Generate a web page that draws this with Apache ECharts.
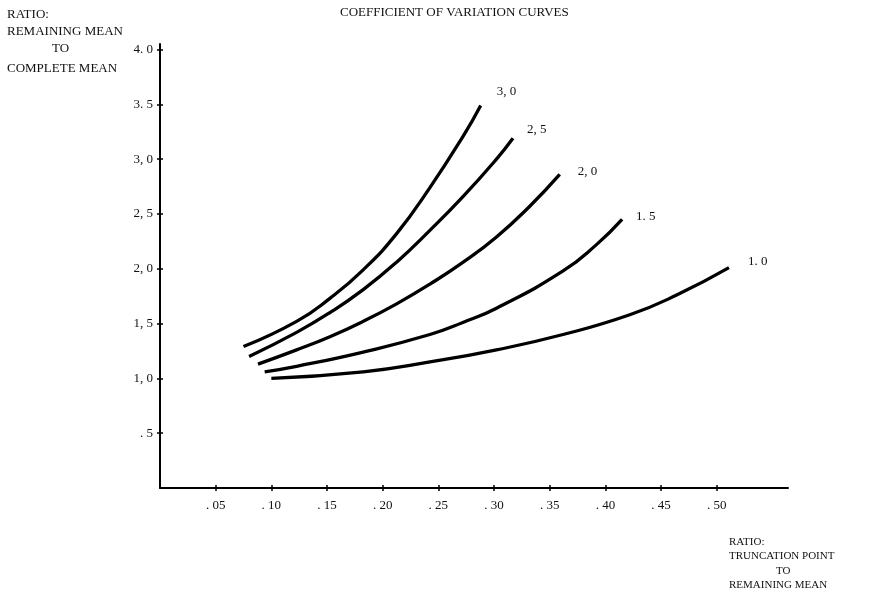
<!DOCTYPE html>
<html>
<head>
<meta charset="utf-8">
<script src="https://cdn.jsdelivr.net/npm/echarts@6/dist/echarts.min.js"></script>
<style>
html,body{margin:0;padding:0;background:#fff;}
#chart{width:876px;height:608px;}
</style>
</head>
<body>
<div id="chart"></div>
<script>
// ---- data ----
const curveNames = ['3, 0', '2, 5', '2, 0', '1. 5', '1. 0'];
const cv30x = [0.075, 0.1227, 0.1526, 0.1825, 0.2125, 0.2424, 0.2723, 0.288];
const cv30y = [1.29, 1.52, 1.73, 1.99, 2.32, 2.74, 3.21, 3.49];
const cv25x = [0.080, 0.1227, 0.1526, 0.1825, 0.2125, 0.2424, 0.2723, 0.3022, 0.317];
const cv25y = [1.20, 1.42, 1.60, 1.81, 2.06, 2.35, 2.66, 3.00, 3.19];
const cv20x = [0.088, 0.1227, 0.1526, 0.1825, 0.2125, 0.2424, 0.2723, 0.3022, 0.3321, 0.359];
const cv20y = [1.13, 1.26, 1.38, 1.52, 1.68, 1.86, 2.06, 2.29, 2.57, 2.86];
const cv15x = [0.094, 0.1227, 0.1825, 0.2424, 0.272, 0.3022, 0.362, 0.392, 0.415];
const cv15y = [1.06, 1.11, 1.24, 1.40, 1.51, 1.64, 1.98, 2.22, 2.45];
const cv10x = [0.100, 0.1825, 0.2424, 0.3022, 0.362, 0.4219, 0.464, 0.511];
const cv10y = [1.00, 1.06, 1.15, 1.26, 1.40, 1.58, 1.76, 2.01];

const xTickValues = [0.05, 0.10, 0.15, 0.20, 0.25, 0.30, 0.35, 0.40, 0.45, 0.50];
const xTickLabels = ['. 05', '. 10', '. 15', '. 20', '. 25', '. 30', '. 35', '. 40', '. 45', '. 50'];
const yTickValues = [0.5, 1.0, 1.5, 2.0, 2.5, 3.0, 3.5, 4.0];
const yTickLabels = ['. 5', '1, 0', '1, 5', '2, 0', '2, 5', '3, 0', '3. 5', '4. 0'];

const titleText = 'COEFFICIENT OF VARIATION CURVES';
const yCaption = ['RATIO:', 'REMAINING MEAN', 'TO', 'COMPLETE MEAN'];
const xCaption = ['RATIO:', 'TRUNCATION POINT', 'TO', 'REMAINING MEAN'];

// ---- build ----
const FONT = '"Liberation Serif", "DejaVu Serif", serif';
function zip(xs, ys) { return xs.map((x, i) => [x, ys[i]]); }
function lookup(values, labels, v) {
  for (let i = 0; i < values.length; i++) if (Math.abs(values[i] - v) < 1e-6) return labels[i];
  return '';
}
const curves = [[cv30x, cv30y], [cv25x, cv25y], [cv20x, cv20y], [cv15x, cv15y], [cv10x, cv10y]];
const labelOffsets = [[8, -14], [6, -9], [10, -3], [6, -3], [11, -6]];

const series = curves.map((c, i) => ({
  type: 'line',
  name: curveNames[i],
  xAxisIndex: 0,
  yAxisIndex: 0,
  data: zip(c[0], c[1]),
  smooth: 0.5,
  symbol: 'none',
  lineStyle: { color: '#000', width: 3.3 },
  endLabel: {
    show: true,
    formatter: curveNames[i],
    color: '#111',
    fontFamily: FONT,
    fontSize: 13,
    offset: labelOffsets[i]
  },
  z: 3
}));

const xBase = { type: 'value', min: 0, max: 0.564, splitLine: { show: false } };
const yBase = { type: 'value', min: 0, max: 4.05, splitLine: { show: false } };

const chart = echarts.init(document.getElementById('chart'));
chart.setOption({
  animation: false,
  backgroundColor: '#fff',
  grid: { left: 160, right: 88, top: 44, bottom: 120, containLabel: false },
  xAxis: [
    Object.assign({}, xBase, {
      axisLine: { show: true, onZero: false, lineStyle: { color: '#000', width: 2 } },
      axisTick: { show: true, customValues: xTickValues, length: 3, lineStyle: { color: '#000', width: 1.5 } },
      axisLabel: {
        show: true, customValues: xTickValues, margin: 11,
        formatter: v => lookup(xTickValues, xTickLabels, v),
        color: '#111', fontFamily: FONT, fontSize: 13
      }
    }),
    Object.assign({}, xBase, {
      position: 'bottom',
      axisLine: { show: false },
      axisTick: { show: true, inside: true, customValues: xTickValues, length: 3, lineStyle: { color: '#000', width: 1.5 } },
      axisLabel: { show: false }
    })
  ],
  yAxis: [
    Object.assign({}, yBase, {
      axisLine: { show: true, onZero: false, lineStyle: { color: '#000', width: 2 } },
      axisTick: { show: true, customValues: yTickValues, length: 3, lineStyle: { color: '#000', width: 1.5 } },
      axisLabel: {
        show: true, customValues: yTickValues, margin: 7,
        formatter: v => lookup(yTickValues, yTickLabels, v),
        color: '#111', fontFamily: FONT, fontSize: 13
      }
    }),
    Object.assign({}, yBase, {
      position: 'left',
      axisLine: { show: false },
      axisTick: { show: true, inside: true, customValues: yTickValues, length: 3, lineStyle: { color: '#000', width: 1.5 } },
      axisLabel: { show: false }
    })
  ],
  graphic: [
    { type: 'text', left: 340, top: 6, style: { text: titleText, fill: '#111', font: '13px ' + FONT } },
    { type: 'text', left: 7, top: 8, style: { text: yCaption[0], fill: '#111', font: '13px ' + FONT } },
    { type: 'text', left: 7, top: 25, style: { text: yCaption[1], fill: '#111', font: '13px ' + FONT } },
    { type: 'text', left: 52, top: 42, style: { text: yCaption[2], fill: '#111', font: '13px ' + FONT } },
    { type: 'text', left: 7, top: 62, style: { text: yCaption[3], fill: '#111', font: '13px ' + FONT } },
    { type: 'text', left: 729, top: 537, style: { text: xCaption[0], fill: '#111', font: '11px ' + FONT } },
    { type: 'text', left: 729, top: 551, style: { text: xCaption[1], fill: '#111', font: '11px ' + FONT } },
    { type: 'text', left: 776, top: 566, style: { text: xCaption[2], fill: '#111', font: '11px ' + FONT } },
    { type: 'text', left: 729, top: 580, style: { text: xCaption[3], fill: '#111', font: '11px ' + FONT } }
  ],
  series: series
});
</script>
</body>
</html>
